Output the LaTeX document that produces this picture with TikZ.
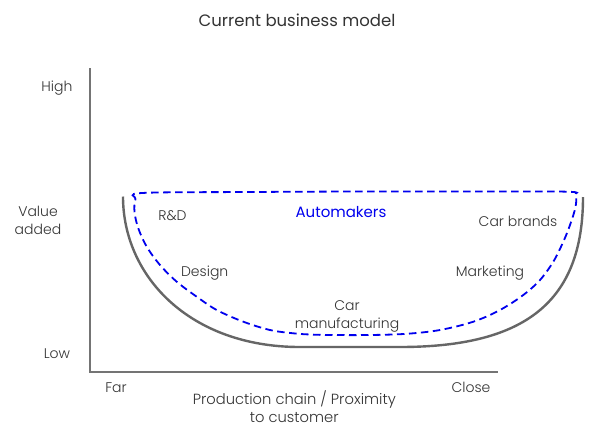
\documentclass[tikz,border=0pt]{standalone}
\usepackage{fontspec}
\setmainfont{Poppins}[UprightFont=* Light]
\newfontfamily\regularfont{Poppins}
\definecolor{txt}{HTML}{333333}
\definecolor{axisgray}{HTML}{747474}
\definecolor{curvegray}{HTML}{666666}
\definecolor{dashblue}{HTML}{0000EE}
\begin{document}
\begin{tikzpicture}[x=1pt,y=-1pt,
  lbl/.style={text=txt,inner sep=0pt,anchor=base,font=\fontsize{14}{17.5}\selectfont,align=center},
  axisline/.style={draw=axisgray,line width=1.8pt},
  valuecurve/.style={draw=curvegray,line width=2.4pt},
  chain/.style={draw=dashblue,line width=1.8pt,dash pattern=on 7.5pt off 4.5pt}]
\useasboundingbox[fill=white] (0,0) rectangle (596,429);
% title
\node[lbl,font=\regularfont\fontsize{16.5}{20}\selectfont] (title) at (297,26) {Current business model};
% axes
\coordinate (ytop) at (90,68);
\coordinate (origin) at (90,372);
\coordinate (xend) at (498,372);
\draw[axisline] (ytop) -- (origin) -- (xend);
% axis labels
\node[lbl] (high) at (57,91) {High};
\node[lbl] (low) at (57,358) {Low};
\node[lbl] (value) at (38,234.3) {Value\\added};
\node[lbl] (far) at (116,392.7) {Far};
\node[lbl] (close) at (471,392.7) {Close};
\node[lbl,font=\fontsize{14.7}{17.8}\selectfont] (xlabel) at (294.3,422.7) {Production chain / Proximity\\to customer};
% value-added curve
\coordinate (cl) at (123,196.5);
\coordinate (bl) at (300,347);
\coordinate (br) at (400,347);
\coordinate (cr) at (583,197);
\draw[valuecurve] (cl) .. controls (123,276.5) and (190,347) .. (bl) -- (br)
  .. controls (525,347) and (583,302) .. (cr);
% automakers boundary
\draw[chain] plot[smooth cycle, tension=0.55] coordinates {
  (134.5,212) (135.5,199) (142,193) (250,192) (360,191.5) (470,191.5) (567,191.7)
  (575.5,195) (575.5,207) (570,225) (563.3,241.7) (553.3,261.7) (540,280)
  (523.3,295) (500,310) (473.3,321.7) (440,330) (406.7,333.8) (370,335)
  (330,335) (310,334.5) (293.3,333.3) (270,330) (243.3,321.7) (216.7,310)
  (196.7,296.7) (176.7,281.7) (160,265) (146.7,246.7) (138.3,228.3)};
% labels inside
\node[lbl,text=dashblue,font=\regularfont\fontsize{15}{19}\selectfont] (automakers) at (341,217.3) {Automakers};
\node[lbl] (rd) at (172.5,220) {R\&D};
\node[lbl] (design) at (204.7,276.7) {Design};
\node[lbl] (brands) at (518,226.7) {Car brands};
\node[lbl] (marketing) at (490,276.7) {Marketing};
\node[lbl] (manuf) at (347,328.3) {Car\\manufacturing};
\end{tikzpicture}
\end{document}
